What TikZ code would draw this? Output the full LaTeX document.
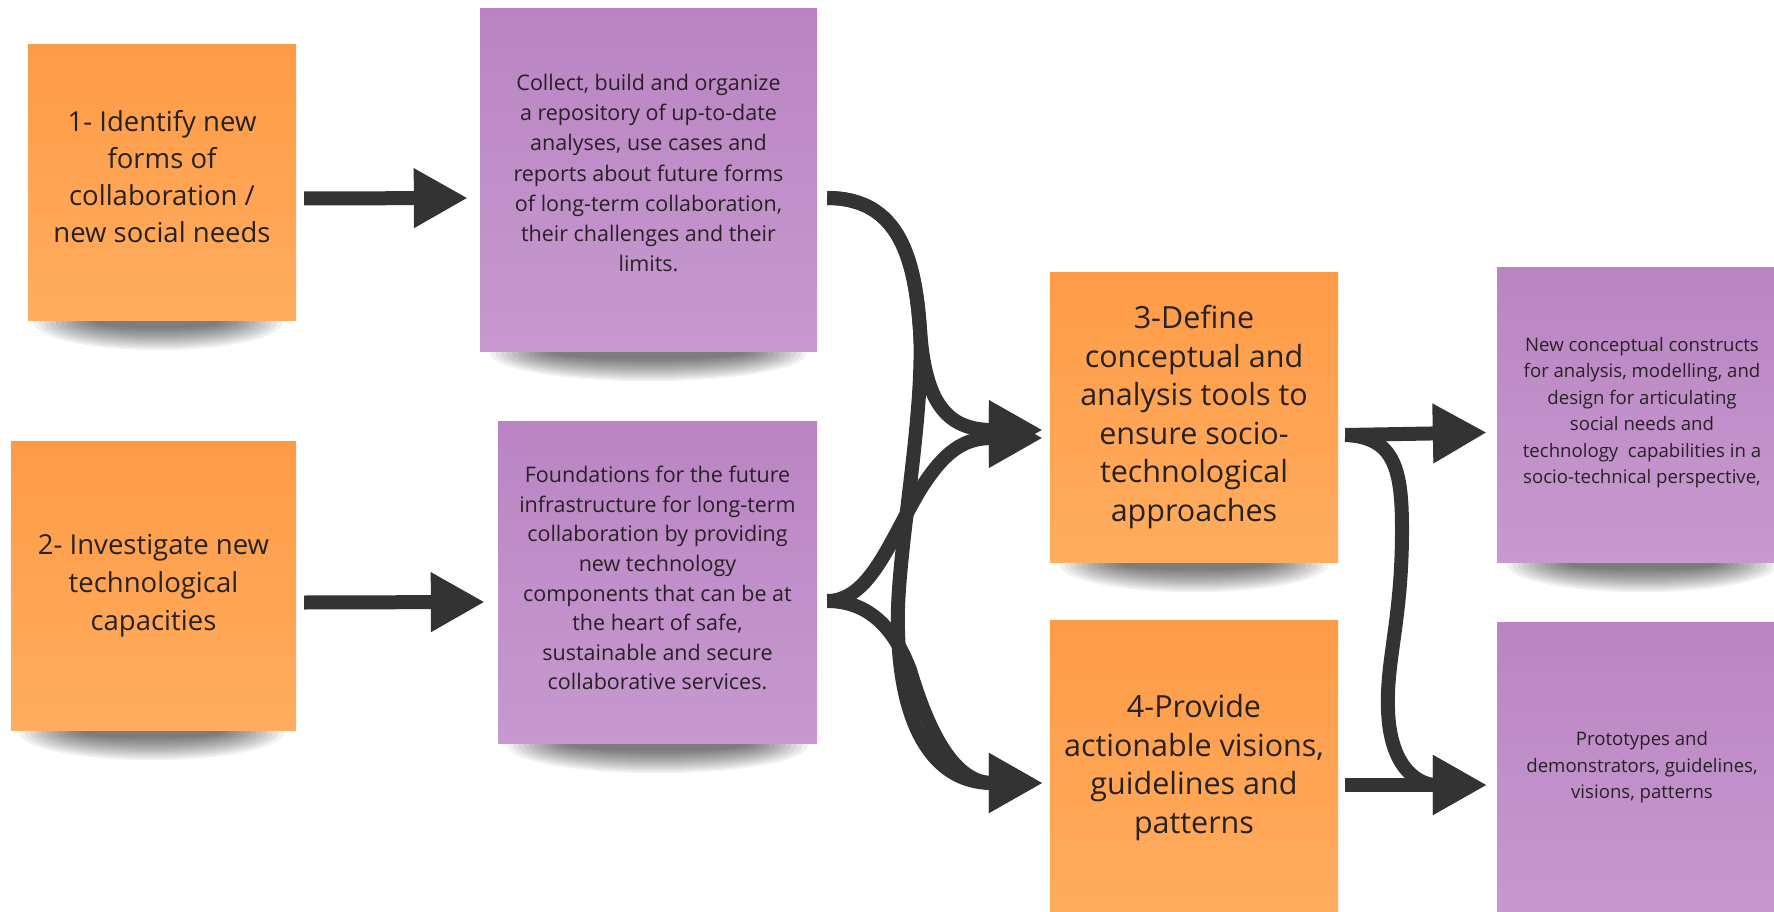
\documentclass[tikz,border=0pt]{standalone}
\usepackage{fontspec}
\setmainfont{Open Sans}
\usetikzlibrary{arrows.meta,calc,backgrounds}
\definecolor{orTop}{HTML}{FE9B47}
\definecolor{orBot}{HTML}{FFAD5F}
\definecolor{puTop}{HTML}{BA84C3}
\definecolor{puBot}{HTML}{C799CF}
\definecolor{ink}{HTML}{333333}
\definecolor{txt}{HTML}{262224}
\newcommand{\liftby}[1]{\rule[-#1pt]{0pt}{#1pt}}
\begin{document}
\begin{tikzpicture}[x=1pt,y=-1pt,
  note/.style={rectangle, inner sep=0pt, align=center, text=txt},
  orangenote/.style={note, top color=orTop, bottom color=orBot},
  purplenote/.style={note, top color=puTop, bottom color=puBot},
  bigtext/.style={font=\fontsize{27.5}{36.8}\selectfont},
  bigtextb/.style={font=\fontsize{27.5}{38}\selectfont},
  hugetext/.style={font=\fontsize{30.5}{38.6}\selectfont},
  midtext/.style={font=\fontsize{21.5}{30.2}\selectfont},
  midtextb/.style={font=\fontsize{21.5}{29.6}\selectfont},
  smalltext/.style={font=\fontsize{18.6}{26.5}\selectfont},
  shadowpiece/.style={fill=black, opacity=0.055},
  flow/.style={draw=ink, line width=14pt, -{Triangle[length=54pt,width=56pt]}}
]
\useasboundingbox (0,0) rectangle (1774,912);

% sticky notes
\node[orangenote, bigtext, minimum width=268pt, minimum height=275pt] (o1) at (162,182.5)
  {1- Identify new\\forms of\\collaboration /\\new social needs\liftby{12}};
\node[purplenote, midtext, minimum width=337pt, minimum height=342pt] (p1) at (648.5,180)
  {Collect, build and organize\\a repository of up-to-date\\analyses, use cases and\\reports about future forms\\of long-term collaboration,\\their challenges and their\\limits.\liftby{14}};
\node[orangenote, bigtextb, minimum width=285pt, minimum height=289pt] (o2) at (153.5,585.5)
  {2- Investigate new\\technological\\capacities\liftby{6}};
\node[purplenote, midtextb, minimum width=319pt, minimum height=322pt] (p2) at (657.5,582)
  {Foundations for the future\\infrastructure for long-term\\collaboration by providing\\new technology\\components that can be at\\the heart of safe,\\sustainable and secure\\collaborative services.\liftby{8}};
\node[orangenote, hugetext, minimum width=288pt, minimum height=290pt] (o3) at (1194,417)
  {3-Define\\conceptual and\\analysis tools to\\ensure socio-\\technological\\approaches\liftby{4}};
\node[orangenote, hugetext, minimum width=288pt, minimum height=300pt] (o4) at (1194,770)
  {4-Provide\\actionable visions,\\guidelines and\\patterns\liftby{12}};
\node[purplenote, smalltext, minimum width=290pt, minimum height=295pt] (p3) at (1642,414.5)
  {New conceptual constructs\\for analysis, modelling, and\\design for articulating\\social needs and\\technology\ \ capabilities in a\\socio-technical perspective,\liftby{8}};
\node[purplenote, smalltext, minimum width=290pt, minimum height=298pt] (p4) at (1642,771)
  {Prototypes and\\demonstrators, guidelines,\\visions, patterns\liftby{12}};

% soft shadows below the notes
\begin{scope}[on background layer]
  \fill[white] (0,0) rectangle (1774,912);
  \foreach \n/\hw/\dx in {o1/134/-4, p1/168/0, o2/142/-2, p2/160/0, o3/144/0, p3/145/0} {
    \foreach \i in {1,...,12} {
      \fill[shadowpiece] ($(\n.south)+(\dx,2)$) ellipse ({\hw-4-5.5*\i} and {30-2*\i});
    }
  }
\end{scope}

% connector end points
\coordinate (s1) at ($(p1.east)+(10,18)$);
\coordinate (s2) at ($(p2.east)+(10,19)$);
\coordinate (t3a) at ($(o3.west)+(-7,13)$);
\coordinate (t3b) at ($(o3.west)+(-7,21)$);
\coordinate (t4) at ($(o4.west)+(-7,13)$);
\coordinate (r3) at ($(o3.east)+(7,18)$);
\coordinate (r4) at ($(o4.east)+(7,15)$);
\coordinate (u3) at ($(p3.west)+(-10,18)$);
\coordinate (u4) at ($(p4.west)+(-10,14)$);

% straight arrows
\draw[flow] ($(o1.east)+(8,16)$) -- ($(p1.west)+(-12,18)$);
\draw[flow] ($(o2.east)+(8,17)$) -- ($(p2.west)+(-13,20)$);

% curved arrows in the middle
\draw[flow] (s1) .. controls (900,198) and (915,260) .. (920,330)
  .. controls (925,400) and (945,430) .. (t3a);
\draw[flow] (s1) .. controls (900,198) and (915,260) .. (920,330)
  .. controls (925,420) and (895,560) .. (898,630)
  .. controls (900,720) and (930,783) .. (t4);
\draw[flow] (s2) .. controls (870,601) and (890,540) .. (920,490)
  .. controls (945,450) and (965,438) .. (t3b);
\draw[flow] (s2) .. controls (870,601) and (895,630) .. (910,670)
  .. controls (925,720) and (950,783) .. (t4);

% right arrows
\draw[flow] (r3) -- (u3);
\draw[flow] (r4) -- (u4);
\draw[flow] (r3) .. controls (1395,437) and (1402,470) .. (1402,530)
  .. controls (1402,620) and (1386,660) .. (1388,710)
  .. controls (1390,770) and (1420,785) .. (u4);
\end{tikzpicture}
\end{document}
